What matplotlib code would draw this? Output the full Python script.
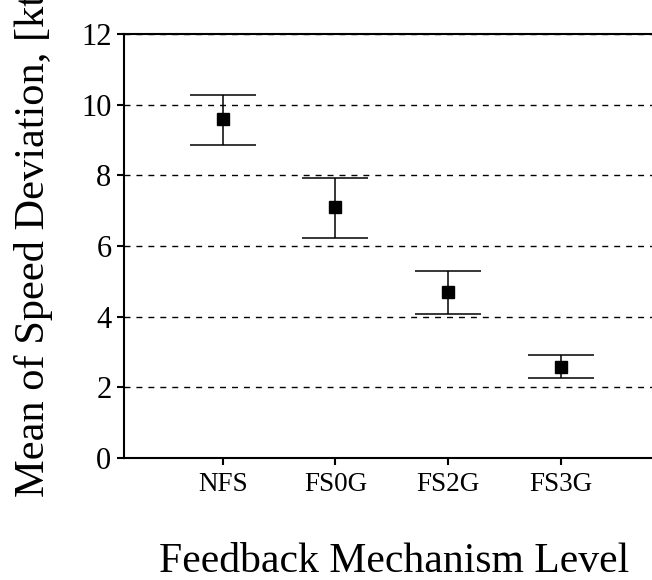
import matplotlib
matplotlib.use("Agg")
import matplotlib.pyplot as plt

# mean speed deviation per feedback level, with upper / lower interval bounds
levels = ["NFS", "FS0G", "FS2G", "FS3G"]
means = [9.6, 7.1, 4.71, 2.57]
upper = [10.28, 7.93, 5.30, 2.91]
lower = [8.86, 6.23, 4.08, 2.26]

plt.rcParams["font.family"] = ["Liberation Serif", "DejaVu Serif"]

fig = plt.figure(figsize=(6.52, 5.8), dpi=100)
ax = fig.add_axes([0.190, 0.2103, 0.82, 0.7311])

xs = list(range(1, len(levels) + 1))
yerr = [[m - lo for m, lo in zip(means, lower)],
        [hi - m for m, hi in zip(means, upper)]]

for y in range(2, 13, 2):
    ax.axhline(y, color="black", lw=1.0, ls=(0, (4.3, 4.3)), zorder=1)

ax.errorbar(xs, means, yerr=yerr, fmt="s", color="black", ms=8.5,
            ecolor="black", elinewidth=1.1, capsize=23.8, capthick=1.1,
            zorder=3)

ax.set_xlim(0.12, 4.87)
ax.set_ylim(0, 12)
ax.set_yticks(range(0, 13, 2))
ax.set_xticks(xs)
ax.set_xticklabels(levels)

for s in ax.spines.values():
    s.set_linewidth(1.5)
ax.tick_params(axis="y", direction="out", length=5, width=1.5, pad=4, labelsize=22)
ax.tick_params(axis="x", direction="out", length=5, width=1.5, pad=5, labelsize=19.5)

fig.text(0.604, 0.0138, "Feedback Mechanism Level", ha="center", va="baseline", fontsize=30)
fig.text(0.052, (580 - 497) / 580, "Mean of Speed Deviation, [kts]",
         rotation=90, ha="center", va="bottom", fontsize=30.5)

fig.savefig("out.png", dpi=100)
